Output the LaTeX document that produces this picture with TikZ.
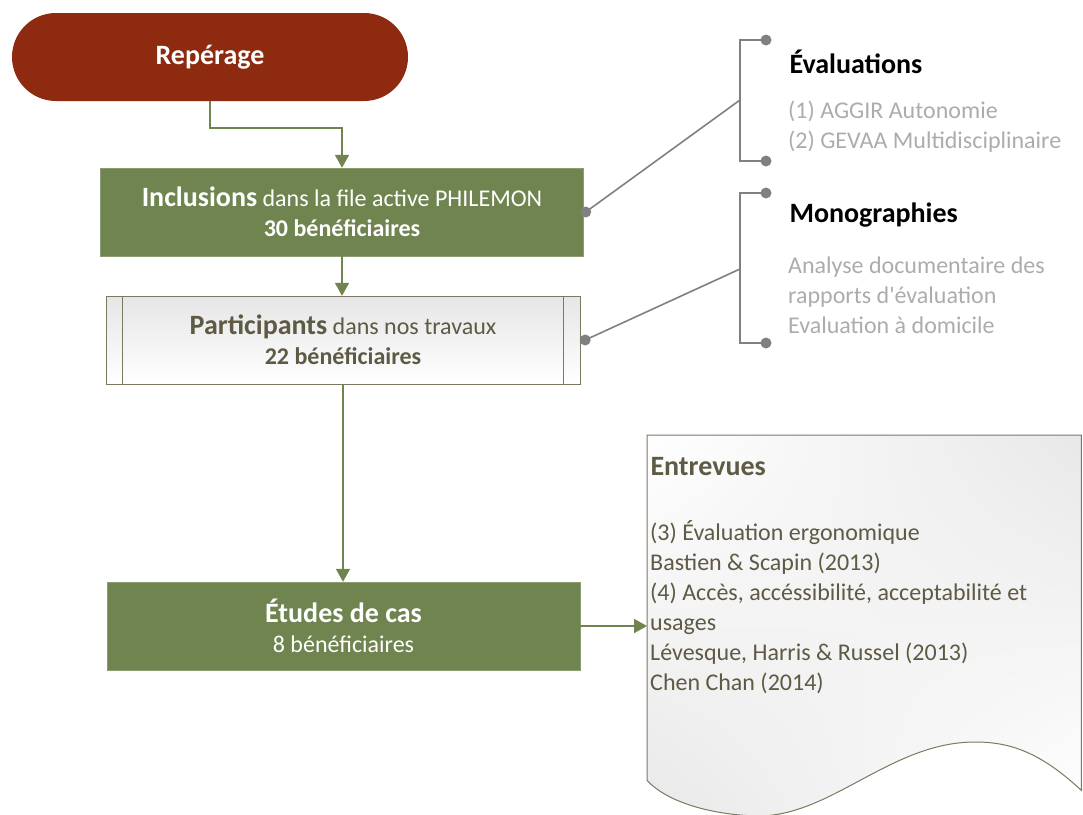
\documentclass[tikz,border=0pt]{standalone}
\usepackage{fontspec}
\setmainfont{Carlito}
\newfontfamily\plainfont{Carlito}
\usetikzlibrary{arrows.meta,positioning,calc,shadings}
\definecolor{repred}{RGB}{142,42,16}
\definecolor{philgreen}{RGB}{112,132,80}
\definecolor{partbrown}{RGB}{95,90,68}
\definecolor{partline}{RGB}{125,120,96}
\definecolor{linkgray}{RGB}{128,128,128}
\definecolor{softgray}{RGB}{172,172,172}

\begin{document}
\begin{tikzpicture}[x=1pt, y=-1pt, >={Triangle[width=14pt,length=13pt]},
  body/.style={font=\fontsize{24}{30}\selectfont},
  head/.style={font=\fontsize{28}{32}\selectfont\bfseries},
  pill/.style={fill=repred, text=white, rounded corners=44pt, minimum width=396pt, minimum height=88pt, head},
  greenbox/.style={draw=philgreen!80!white, fill=philgreen, text=white, minimum height=88pt, align=center, body},
  procbox/.style={draw=partline, top color=black!10, bottom color=white, text=partbrown, minimum width=474pt, minimum height=88pt, align=center, body},
  flow/.style={draw=philgreen, line width=1.8pt},
  link/.style={draw=linkgray, line width=1.6pt},
  dot/.style={circle, fill=linkgray, inner sep=0pt, minimum size=11pt}]
  \useasboundingbox (0,0) rectangle (1083,814);
  % main column
  \node[pill] (rep) at (210,57) {Repérage};
  \node[greenbox, minimum width=483pt] (incl) at (342,212)
    {{\fontsize{28}{30}\selectfont\bfseries Inclusions} dans la file active PHILEMON\\\textbf{30 bénéficiaires}};
  \node[procbox] (part) at (343,340)
    {{\fontsize{28}{30}\selectfont\bfseries Participants} dans nos travaux\\\textbf{22 bénéficiaires}};
  \draw[partline, line width=1pt] ([xshift=17pt]part.north west) -- ([xshift=17pt]part.south west);
  \draw[partline, line width=1pt] ([xshift=-17pt]part.north east) -- ([xshift=-17pt]part.south east);
  \node[greenbox, minimum width=473pt] (etud) at (343.5,626)
    {{\fontsize{28}{32}\selectfont\bfseries Études de cas}\\8 bénéficiaires};
  % document shape
  \node[minimum width=434pt, minimum height=345pt, anchor=north west, inner sep=0pt] (doc) at (647,435) {};
  \draw[partline, line width=1pt, upper left=white, upper right=black!9, lower left=black!9, lower right=white]
    (doc.south west) -- (doc.north west) -- (doc.north east) -- ($(doc.south east)+(0,10)$)
    .. controls (1040,752) and (1010,742) .. (975,742)
    .. controls (890,742) and (830,818) .. (755,816)
    .. controls (705,814) and (665,800) .. (doc.south west) -- cycle;
  \node[head, text=partbrown, anchor=west] (entre) at (647,467) {Entrevues};
  \node[body, text=partbrown, anchor=west, align=left, inner sep=0pt] (entlist) at (650,607)
    {(3) Évaluation ergonomique\\Bastien \& Scapin (2013)\\(4) Accès, accéssibilité, acceptabilité et\\usages\\Lévesque, Harris \& Russel (2013)\\Chen Chan (2014)};
  % right side notes
  \node[head, anchor=west] (evtitle) at (786,62) {Évaluations};
  \node[body, text=softgray, anchor=west, align=left, inner sep=0pt] (evlist) at (788,127)
    {(1) AGGIR Autonomie\\(2) GEVAA Multidisciplinaire};
  \node[head, anchor=west] (motitle) at (786,215) {Monographies};
  \node[body, text=softgray, anchor=west, align=left, inner sep=0pt] (molist) at (788,295)
    {Analyse documentaire des\\rapports d{\plainfont '}évaluation\\Evaluation à domicile};
  \node[dot] (e1) at (766,40) {};
  \node[dot] (e2) at (766,161) {};
  \coordinate (eb) at (740,100);
  \node[dot] (d1) at ([xshift=2pt]incl.east) {};
  \node[dot] (m1) at (766,193) {};
  \node[dot] (m2) at (766,343) {};
  \coordinate (mb) at (740,269);
  \node[dot] (d2) at ([xshift=5pt]part.east) {};
  % connectors
  \draw[flow, ->] (rep.south) -- ++(0,27) -| (incl.north);
  \draw[flow, ->] (incl.south) -- (incl.south |- part.north);
  \draw[flow, ->] (part.south) -- (part.south |- etud.north);
  \draw[flow, ->] (etud.east) -- (doc.west |- etud.east);
  \draw[link] (e1.center) -| (eb) |- (e2.center);
  \draw[link] (eb) -- (d1.center);
  \draw[link] (m1.center) -| (mb) |- (m2.center);
  \draw[link] (mb) -- (d2.center);
\end{tikzpicture}
\end{document}
